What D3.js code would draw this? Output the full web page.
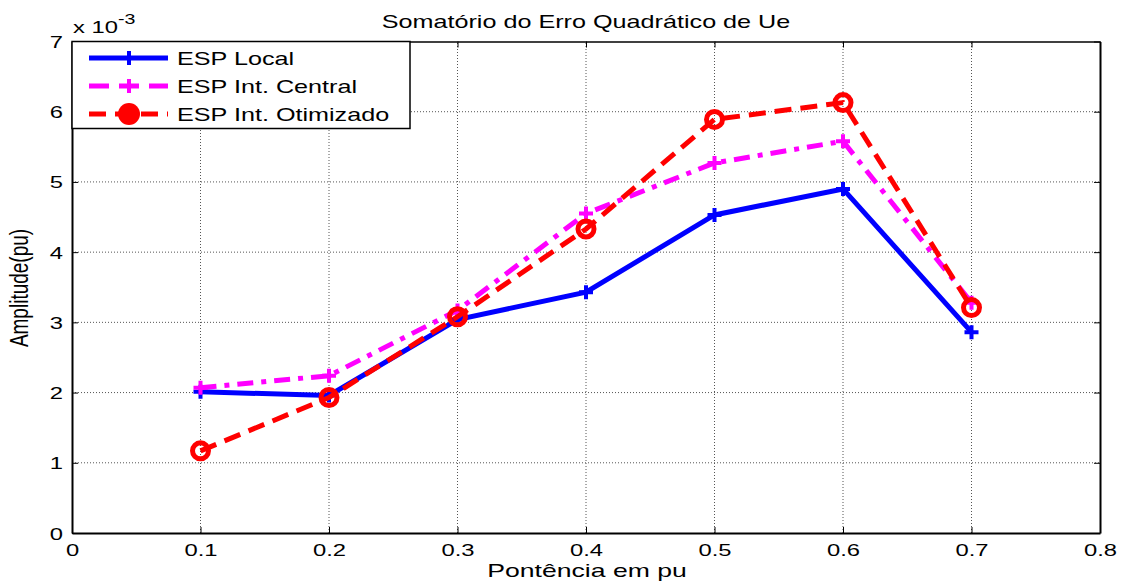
<!DOCTYPE html>
<html lang="en">
<head>
<meta charset="UTF-8">
<title>chart</title>
<script src="https://d3js.org/d3.v7.min.js"></script>
<style>
  body { margin: 0; background: #fff; }
  text { font-family: "Liberation Sans", Arial, sans-serif; fill: #000; }
</style>
</head>
<body>
<svg width="1126" height="585"></svg>
<script>
// dados (x 10^-3)
const potencia = [0.1, 0.2, 0.3, 0.4, 0.5, 0.6, 0.7];
const espLocal = [2.01, 1.96, 3.04, 3.43, 4.53, 4.90, 2.86];
const espCentral = [2.07, 2.24, 3.17, 4.55, 5.27, 5.58, 3.28];
const espOtimizado = [1.17, 1.93, 3.08, 4.33, 5.89, 6.13, 3.21];
const xTicks = [0, 0.1, 0.2, 0.3, 0.4, 0.5, 0.6, 0.7, 0.8];
const yTicks = [0, 1, 2, 3, 4, 5, 6, 7];

const marge = {top: 41.5, bottom: 52, left: 72, right: 26};
const width = 1126, height = 585;
const sx = 1.4; // texto esticado na horizontal, como no original

const svg = d3.select("svg");
const x = d3.scaleLinear().domain([0, 0.8]).range([marge.left, width - marge.right]);
const y = d3.scaleLinear().domain([0, 7]).range([height - marge.bottom, marge.top]);

const series = [
  {name: "ESP Local", values: espLocal, color: "#0000ff", dash: null, marker: "plus"},
  {name: "ESP Int. Central", values: espCentral, color: "#ff00ff", dash: "16,8,5,8", marker: "plus"},
  {name: "ESP Int. Otimizado", values: espOtimizado, color: "#ff0000", dash: "17,9", marker: "circle"}
];

// texto com escala horizontal em volta do ponto (px, py)
function addText(parent, px, py, str, size, anchor) {
  return parent.append("text")
    .attr("transform", "translate(" + px + "," + py + ") scale(" + sx + ",1)")
    .attr("text-anchor", anchor || "start")
    .attr("font-size", size)
    .text(str);
}

// grade
const grid = svg.append("g");
grid.selectAll(".gx").data(xTicks.slice(1, -1)).enter().append("line")
  .attr("x1", d => x(d)).attr("x2", d => x(d))
  .attr("y1", y(0)).attr("y2", y(7))
  .attr("stroke", "#555").attr("stroke-width", 1).attr("stroke-dasharray", "1,2");
grid.selectAll(".gy").data(yTicks.slice(1, -1)).enter().append("line")
  .attr("x1", x(0)).attr("x2", x(0.8))
  .attr("y1", d => y(d)).attr("y2", d => y(d))
  .attr("stroke", "#555").attr("stroke-width", 1).attr("stroke-dasharray", "1,2");

// eixos
svg.append("g")
  .attr("transform", "translate(0," + y(0) + ")")
  .call(d3.axisBottom(x).tickValues(xTicks).tickFormat(d => d === 0 ? "0" : String(d)).tickSizeInner(-6).tickSizeOuter(0))
  .call(g => g.select(".domain").attr("stroke-width", 2))
  .call(g => g.selectAll(".tick text")
    .attr("y", null).attr("dy", null)
    .attr("transform", "translate(0,23) scale(" + sx + ",1)")
    .attr("font-size", 17).attr("font-family", "Liberation Sans, Arial"));
svg.append("g")
  .attr("transform", "translate(" + x(0) + ",0)")
  .call(d3.axisLeft(y).tickValues(yTicks).tickFormat(d3.format("d")).tickSizeInner(-6).tickSizeOuter(0))
  .call(g => g.select(".domain").attr("stroke-width", 2))
  .call(g => g.selectAll(".tick text")
    .attr("x", null).attr("dy", null)
    .attr("transform", "translate(-9,6) scale(" + sx + ",1)")
    .attr("font-size", 17).attr("font-family", "Liberation Sans, Arial"));
svg.append("g")
  .attr("transform", "translate(0," + y(7) + ")")
  .call(d3.axisTop(x).tickValues(xTicks).tickFormat("").tickSizeInner(-6).tickSizeOuter(0))
  .call(g => g.select(".domain").attr("stroke-width", 1.5));
svg.append("g")
  .attr("transform", "translate(" + x(0.8) + ",0)")
  .call(d3.axisRight(y).tickValues(yTicks).tickFormat("").tickSizeInner(-6).tickSizeOuter(0))
  .call(g => g.select(".domain").attr("stroke-width", 2));

// linhas
const line = d3.line().x((d, i) => x(potencia[i])).y(d => y(d));

function drawMarker(g, type, cx, cy, color, legend) {
  if (type === "plus") {
    g.append("path")
      .attr("d", `M${cx - 7},${cy}H${cx + 7}M${cx},${cy - 7}V${cy + 7}`)
      .attr("stroke", color).attr("stroke-width", 4).attr("fill", "none");
  } else {
    g.append("circle").attr("cx", cx).attr("cy", cy).attr("r", legend ? 11 : 8)
      .attr("fill", legend ? color : "none")
      .attr("stroke", color).attr("stroke-width", legend ? 0 : 5);
  }
}

series.forEach(s => {
  const g = svg.append("g");
  g.append("path").datum(s.values)
    .attr("d", line)
    .attr("fill", "none").attr("stroke", s.color).attr("stroke-width", 5)
    .attr("stroke-dasharray", s.dash);
  s.values.forEach((v, i) => drawMarker(g, s.marker, x(potencia[i]), y(v), s.color, false));
});

// legenda
const leg = svg.append("g");
leg.append("rect").attr("x", x(0)).attr("y", y(7))
  .attr("width", 338).attr("height", 87)
  .attr("fill", "#fff").attr("stroke", "#000").attr("stroke-width", 1.5);
series.forEach((s, i) => {
  const ly = 58 + i * 28;
  leg.append("line").attr("x1", 89).attr("x2", 168).attr("y1", ly).attr("y2", ly)
    .attr("stroke", s.color).attr("stroke-width", 5)
    .attr("stroke-dasharray", s.dash ? (s.marker === "circle" ? "17,9" : "20,10") : null);
  drawMarker(leg, s.marker, 129, ly, s.color, true);
  addText(leg, 177, ly + 7, s.name, 18);
});

// textos
addText(svg, 586, 28, "Somatório do Erro Quadrático de Ue", 18, "middle");
const ex = addText(svg, 73, 33, "", 17);
ex.append("tspan").text("x 10");
ex.append("tspan").attr("dy", -9).attr("font-size", 14).text("-3");
addText(svg, 587, 577, "Pontência em pu", 19, "middle");
svg.append("text").attr("transform", "translate(28,288) scale(" + sx + ",1) rotate(-90)")
  .attr("text-anchor", "middle").attr("font-size", 19).text("Amplitude(pu)");
</script>
</body>
</html>
